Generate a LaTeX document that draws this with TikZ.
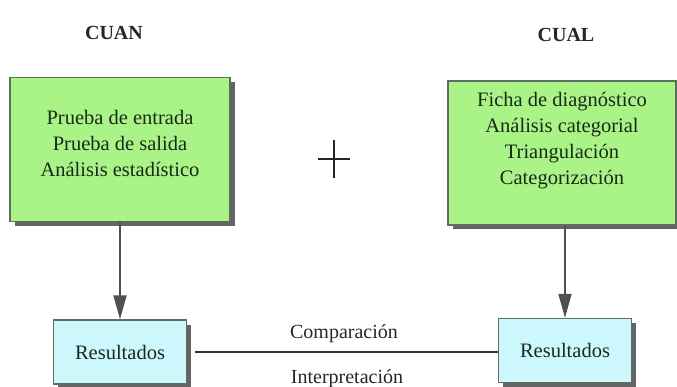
\documentclass[tikz,border=0pt]{standalone}
\usepackage{fontspec}
\setmainfont{Liberation Serif}
\usetikzlibrary{arrows.meta,shadows}
\definecolor{boxgreen}{RGB}{170,244,135}
\definecolor{boxcyan}{RGB}{204,247,253}
\definecolor{edgegray}{RGB}{95,110,95}
\definecolor{shadowgray}{RGB}{100,100,100}
\definecolor{arrowgray}{RGB}{80,80,80}
\definecolor{inktext}{RGB}{25,40,25}
\tikzset{
  boxbase/.style={draw=edgegray, line width=1.3pt, inner sep=0pt,
    drop shadow={shadow xshift=4.5pt, shadow yshift=-4.5pt, fill=shadowgray, opacity=1}},
  greenbox/.style={boxbase, fill=boxgreen},
  cyanbox/.style={boxbase, fill=boxcyan, minimum width=133pt, minimum height=64pt,
    font=\fontsize{20.5}{26}\selectfont, text=inktext},
  boxtext/.style={align=center, font=\fontsize{20.5}{26}\selectfont, text=inktext, inner sep=0pt},
  headtext/.style={font=\fontsize{20}{22}\selectfont\bfseries, text=black!85, inner sep=0pt},
  linktext/.style={font=\fontsize{20}{24}\selectfont, text=black!85, inner sep=0pt, anchor=base},
  flowarrow/.style={draw=arrowgray, line width=1.8pt, -{Triangle[length=24pt,width=13pt]}},
  joinline/.style={draw=black!80, line width=1.5pt}
}
\begin{document}
\begin{tikzpicture}[x=1pt,y=-1pt]
\useasboundingbox (0,0) rectangle (677,387);
% headings
\node[headtext] (cuan) at (114,32.5) {CUAN};
\node[headtext] (cual) at (566,34.5) {CUAL};
% top boxes
\node[greenbox, minimum width=220pt, minimum height=144pt] (cuanbox) at (120,149.5) {};
\node[boxtext] (cuantext) at (120,143.5) {Prueba de entrada\\Prueba de salida\\Análisis estadístico};
\node[greenbox, minimum width=228pt, minimum height=144pt] (cualbox) at (562,153) {};
\node[boxtext] (cualtext) at (562,141) {Ficha de diagnóstico\\Análisis categorial\\Triangulación\\Categorización};
% plus sign
\coordinate (plusc) at (334,159);
\draw[line width=2.2pt, black!85] ([xshift=-16pt]plusc) -- ([xshift=16pt]plusc);
\draw[line width=2.2pt, black!85] ([yshift=19pt]plusc) -- ([yshift=-19pt]plusc);
% result boxes
\node[cyanbox] (cuanres) at (120,352) {Resultados};
\node[cyanbox] (cualres) at (565,350.5) {Resultados};
% arrows
\draw[flowarrow] (cuanbox.south) -- (cuanbox.south |- cuanres.north);
\draw[flowarrow] (cualres.north |- cualbox.south) -- (cualres.north);
% joining line
\draw[joinline] ([xshift=8pt]cuanres.east) -- (cuanres.east -| cualres.west);
\node[linktext] (comp) at (344,338) {Comparación};
\node[linktext] (interp) at (347,383) {Interpretación};
\end{tikzpicture}
\end{document}
